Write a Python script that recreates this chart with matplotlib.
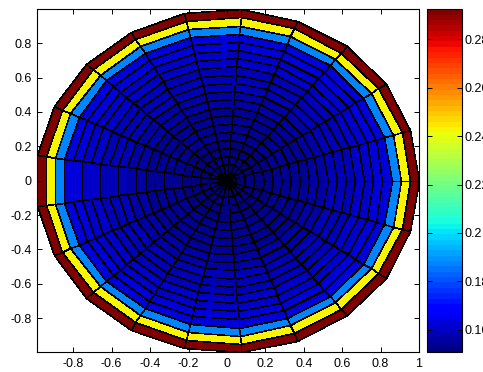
import numpy as np
import matplotlib
matplotlib.use('Agg')
import matplotlib.pyplot as plt
from matplotlib.ticker import FuncFormatter

# grid of the disc: 21 rings and 21 angular sectors (MATLAB-style polar surf, seen from above)
n_r = 21
n_theta = 21

# value of each ring, from the centre outwards
ring_values = [0.1512, 0.1514, 0.1517, 0.1521, 0.1526, 0.1532, 0.1538,
               0.1545, 0.1552, 0.1560, 0.1568, 0.1576, 0.1585, 0.1594,
               0.1603, 0.1612, 0.1621, 0.1630, 0.1880, 0.2420, 0.2924]

clim = [0.1508, 0.2924]
xticks = [-0.8, -0.6, -0.4, -0.2, 0, 0.2, 0.4, 0.6, 0.8, 1]
yticks = [-0.8, -0.6, -0.4, -0.2, 0, 0.2, 0.4, 0.6, 0.8]
cbar_ticks = [0.16, 0.18, 0.2, 0.22, 0.24, 0.26, 0.28]

plt.rcParams['font.family'] = ['Liberation Sans', 'DejaVu Sans']
plt.rcParams['font.size'] = 9

r = np.linspace(0, 1, n_r + 1)
t = np.linspace(0, 2 * np.pi, n_theta + 1)
R, T = np.meshgrid(r, t)
X = R * np.cos(T)
Y = R * np.sin(T)
C = np.tile(np.array(ring_values), (n_theta, 1))

fig = plt.figure(figsize=(4.83, 3.72), dpi=100)
ax = fig.add_axes([0.0766, 0.0535, 0.7909, 0.9215])
cax = fig.add_axes([0.884, 0.0535, 0.0725, 0.9215])

cmap = plt.get_cmap('jet', 64)
mesh = ax.pcolormesh(X, Y, C, cmap=cmap, vmin=clim[0], vmax=clim[1],
                     edgecolors='k', linewidth=0.4, shading='flat')

ax.set_xlim(X.min(), 1.0)
ax.set_ylim(-0.997, 0.997)
fmt = FuncFormatter(lambda v, p: '%g' % round(v, 2))
ax.set_xticks(xticks)
ax.set_yticks(yticks)
ax.xaxis.set_major_formatter(fmt)
ax.yaxis.set_major_formatter(fmt)
ax.tick_params(direction='in', length=3.5, width=0.7, top=True, right=True, pad=4)
for s in ax.spines.values():
    s.set_linewidth(0.8)

cb = fig.colorbar(mesh, cax=cax)
cb.set_ticks(cbar_ticks)
cb.ax.yaxis.set_major_formatter(fmt)
cax.tick_params(direction='in', length=3.5, width=0.7, left=True, right=True, pad=2)
cb.outline.set_linewidth(0.8)

plt.savefig('out.png', dpi=100)
